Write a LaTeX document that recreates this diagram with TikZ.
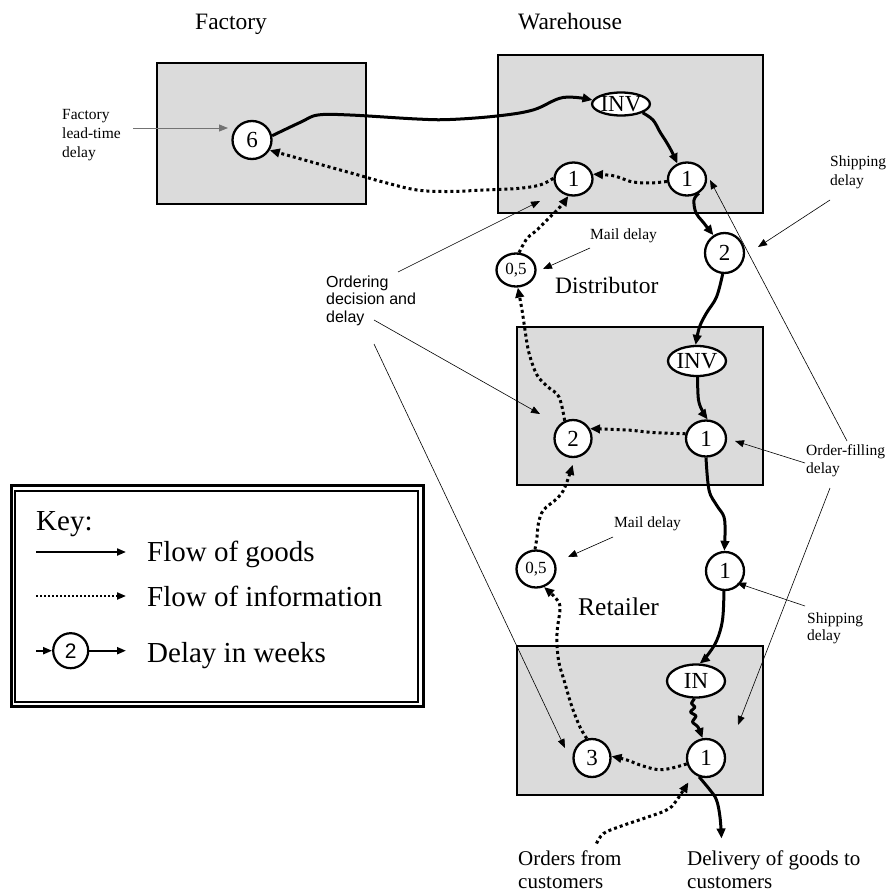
\documentclass[tikz,border=0pt]{standalone}
\usepackage{fontspec}
\setmainfont{Liberation Serif}
\newfontfamily\arialfont{Liberation Sans}
\usetikzlibrary{arrows.meta,shapes.geometric}

\begin{document}
\begin{tikzpicture}[x=1pt,y=-1pt,
  stage/.style={draw, line width=2pt, fill=black!14},
  delay/.style={draw, ellipse, line width=2.3pt, fill=white, inner sep=0pt,
    font=\fontsize{23}{26}\selectfont},
  smalldelay/.style={delay, font=\fontsize{17}{20}\selectfont},
  goods/.style={line width=3pt, line join=round, -{Triangle[length=10pt,width=8.5pt]}},
  info/.style={line width=3pt, dash pattern=on 3pt off 3pt, -{Triangle[length=10pt,width=8.5pt]}},
  pointer/.style={line width=0.6pt, -{Triangle[length=9pt,width=7pt]}},
  title/.style={font=\fontsize{23.5}{28}\selectfont, anchor=base west, inner sep=0pt},
  % multi-line labels: placed at the baseline of their last line
  note/.style={font=\fontsize{15.5}{19}\selectfont, align=left, anchor=base west, inner sep=0pt},
  caption/.style={font=\fontsize{21}{23.5}\selectfont, align=left, anchor=base west, inner sep=0pt},
  keytext/.style={font=\fontsize{29}{32}\selectfont, anchor=base west, inner sep=0pt},
  keygoods/.style={line width=2pt, -{Triangle[length=9pt,width=7pt]}},
  keyinfo/.style={line width=2pt, dash pattern=on 2pt off 2pt, -{Triangle[length=9pt,width=7pt]}},
]
\useasboundingbox (0,0) rectangle (889,894);

% ---------- stages ----------
\draw[stage] (157,63) rectangle (366,204);
\draw[stage] (498,55) rectangle (763,213);
\draw[stage] (517,327) rectangle (763,485);
\draw[stage] (517,646) rectangle (763,795);

\node[title] (tfac) at (195,29) {Factory};
\node[title] (twar) at (518,29) {Warehouse};
\node[title] (tdis) at (555,293) {Distributor};
\node[title, font=\fontsize{25.5}{28}\selectfont] (tret) at (578,615) {Retailer};

% ---------- delays ----------
\node[delay, minimum width=39pt, minimum height=38pt] (n6) at (252,140) {6};
\node[delay, minimum width=56pt, minimum height=23pt] (wINV) at (621,104) {INV};
\node[delay, minimum width=38pt, minimum height=33pt] (w1r) at (687,179) {1};
\node[delay, minimum width=38pt, minimum height=33pt] (w1l) at (573.5,179) {1};
\node[delay, minimum width=39pt, minimum height=40pt] (w2) at (724.5,253) {2};
\node[smalldelay, minimum width=39pt, minimum height=33pt] (d05) at (516,270) {0,5};
\node[delay, minimum width=58pt, minimum height=30pt] (dINV) at (697,361) {INV};
\node[delay, minimum width=40pt, minimum height=36pt] (d1) at (706,438.5) {1};
\node[delay, minimum width=37pt, minimum height=37pt] (d2) at (573,438.5) {2};
\node[delay, minimum width=38pt, minimum height=38pt] (m1) at (725,571) {1};
\node[smalldelay, minimum width=39pt, minimum height=37pt] (r05) at (536,569) {0,5};
\node[delay, minimum width=58pt, minimum height=33pt] (rIN) at (696,681) {IN};
\node[delay, minimum width=37pt, minimum height=38pt] (r3) at (592,758) {3};
\node[delay, minimum width=38pt, minimum height=38pt] (r1) at (706,758) {1};

% ---------- flow of goods ----------
\draw[goods] plot[smooth, tension=0.6] coordinates {(n6.12) (301,122) (318,115) (350,115) (417,119) (450,119.5) (497,116) (533,110) (563,97.5) (wINV.172)};
\draw[goods] plot[smooth, tension=0.6] coordinates {(wINV.-22) (653,120) (660,132) (667,143) (672,152) (w1r.122)};
\draw[goods] plot[smooth, tension=0.6] coordinates {(w1r.-50) (694,200) (696,213) (703,222) (w2.122)};
\draw[goods] plot[smooth, tension=0.6] coordinates {(w2.-95) (716.5,297) (706.5,313) (699.5,327) (dINV.95)};
\draw[goods] plot[smooth, tension=0.6] coordinates {(dINV.-88) (698.5,400) (703,412) (d1.85)};
\draw[goods] plot[smooth, tension=0.6] coordinates {(d1.-90) (709,490) (716.5,505) (724,517) (725,534) (m1.92)};
\draw[goods] plot[smooth, tension=0.6] coordinates {(m1.-93) (722.5,620) (716.5,641) (706.5,656.5) (rIN.78)};
\draw[goods] plot[smooth, tension=0.4] coordinates {(rIN.-95) (691.5,703.5) (695,707) (690.5,712) (696,716) (692.5,722) (698,727) (r1.100)};
\coordinate (dlv) at (721.5,838.5);
\draw[goods] plot[smooth, tension=0.6] coordinates {(r1.-110) (710,790) (716.5,800) (720,817) (dlv)};

% ---------- flow of information ----------
\draw[info] plot[smooth, tension=0.6] coordinates {(w1r.187) (650,183) (633,182) (622,178.5) (612,175.5) (w1l.14)};
\draw[info] plot[smooth, tension=0.6] coordinates {(w1l.178) (540,185) (517,188.5) (483,190) (450,191.5) (417,190) (383,182) (360,175.5) (317,163.5) (n6.-30)};
\draw[info] plot[smooth, tension=0.6] coordinates {(d05.80) (527,238.5) (537,230) (550,217) (560,207) (w1l.-107)};
\draw[info] plot[smooth, tension=0.6] coordinates {(d2.115) (559,397) (548,387) (537,375) (529,353) (525,330) (522,310) (d05.-84)};
\draw[info] plot[smooth, tension=0.6] coordinates {(d1.167) (653,432.5) (627,430) (d2.30)};
\draw[info, shorten >=7pt] plot[smooth, tension=0.6] coordinates {(r05.93) (537,537) (538.5,523) (543.5,510) (557,498.5) (565,487) (d2.-85)};
\draw[info] plot[smooth, tension=0.6] coordinates {(r3.105) (580,727) (572,707) (565,683.5) (558.5,660) (557,633.5) (560,608) (556,598.5) (r05.-66)};
\draw[info] plot[smooth, tension=0.6] coordinates {(r1.197) (670,768.5) (657,769.5) (640,765) (627,760) (r3.5)};
\coordinate (ord) at (596.5,843.5);
\draw[info, shorten >=10pt] plot[smooth, tension=0.6] coordinates {(ord) (603.5,833.5) (620,826.5) (643.5,818.5) (666.5,810) (676.5,800.5) (r1.-128)};

% ---------- explanatory labels ----------
\node[note] (lfac) at (62,157) {Factory\\lead-time\\delay};
\node[note] (lmail1) at (590,239) {Mail delay};
\node[note] (lmail2) at (614,527) {Mail delay};
\node[note] (lship1) at (830,185) {Shipping\\delay};
\node[note, font=\fontsize{15.5}{18}\selectfont] (lfill) at (806,473) {Order-filling\\delay};
\node[note, font=\fontsize{15.5}{17}\selectfont] (lship2) at (807,640) {Shipping\\delay};
\node[note, font=\arialfont\fontsize{16}{17.5}\selectfont] (lord) at (326,322) {Ordering\\decision and\\delay};
\node[caption] (lcust) at (518,888.5) {Orders from\\customers};
\node[caption] (ldlv) at (687,888.5) {Delivery of goods to\\customers};

\coordinate (pf0) at (133,128);   \coordinate (pf1) at (228,128);
\coordinate (po0) at (398,272);   \coordinate (po1) at (540,201);
\coordinate (pp0) at (374,320);   \coordinate (pp1) at (540,414);
\coordinate (pq0) at (374,344);   \coordinate (pq1) at (565,748);
\coordinate (pm0) at (590,248);   \coordinate (pm1) at (543,269);
\coordinate (pn0) at (613,537);   \coordinate (pn1) at (568,557);
\coordinate (ps0) at (830,200);   \coordinate (ps1) at (758,247);
\coordinate (pa0) at (847,441);   \coordinate (pa1) at (710,180);
\coordinate (pb0) at (805,463);   \coordinate (pb1) at (735,441);
\coordinate (pc0) at (830,488);   \coordinate (pc1) at (738,725);
\coordinate (pt0) at (805,606);   \coordinate (pt1) at (737,583);

\draw[pointer, black!55, line width=0.9pt] (pf0) -- (pf1);
\draw[pointer] (po0) -- (po1);
\draw[pointer] (pp0) -- (pp1);
\draw[pointer] (pq0) -- (pq1);
\draw[pointer] (pm0) -- (pm1);
\draw[pointer] (pn0) -- (pn1);
\draw[pointer] (ps0) -- (ps1);
\draw[pointer] (pa0) -- (pa1);
\draw[pointer] (pb0) -- (pb1);
\draw[pointer] (pc0) -- (pc1);
\draw[pointer] (pt0) -- (pt1);

% ---------- key ----------
\draw[line width=2.7pt] (11.3,485.3) rectangle (423.3,706.5);
\draw[line width=2pt] (15,491) rectangle (418,701.5);
\node[keytext] (kk) at (36,530) {Key:};
\node[keytext] (kg) at (147,561.7) {Flow of goods};
\node[keytext] (ki) at (147,606.7) {Flow of information};
\node[keytext] (kd) at (147,662.7) {Delay in weeks};
\coordinate (kg0) at (36,552);  \coordinate (kg1) at (126,552);
\coordinate (ki0) at (36,596);  \coordinate (ki1) at (126,596);
\draw[keygoods] (kg0) -- (kg1);
\draw[keyinfo] (ki0) -- (ki1);
\node[draw, circle, line width=2.2pt, minimum size=35pt, inner sep=0pt,
      font=\arialfont\fontsize{21}{24}\selectfont] (k2) at (70.7,650.7) {2};
\coordinate (kd0) at (36,650.7);  \coordinate (kd1) at (126,650.7);
\draw[keygoods] (kd0) -- (k2.west);
\draw[keygoods] (k2.east) -- (kd1);
\end{tikzpicture}
\end{document}
